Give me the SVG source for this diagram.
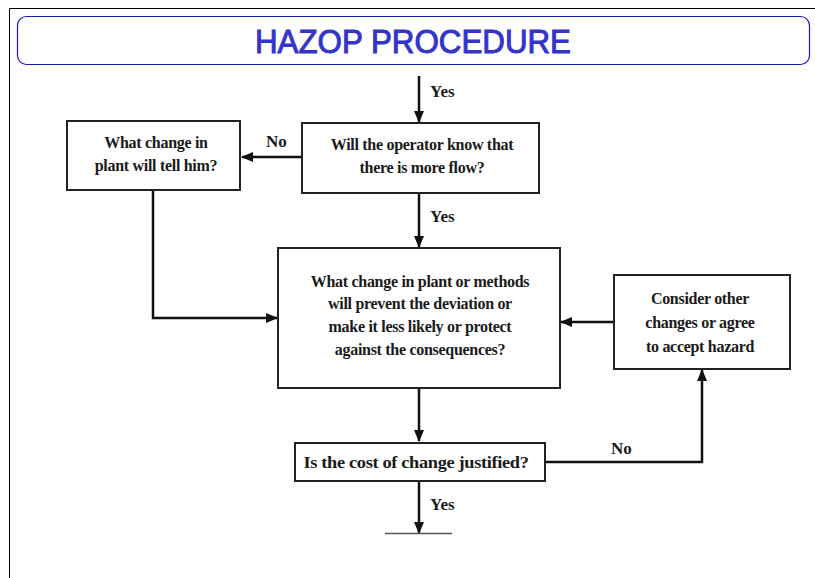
<svg xmlns="http://www.w3.org/2000/svg" width="815" height="578" viewBox="0 0 815 578">
<style>
.box{fill:#fff;stroke:#222;stroke-width:2}
.t{font-family:"Liberation Serif","Times New Roman",serif;font-size:16px;fill:#1a1a1a;text-anchor:middle;font-weight:bold;letter-spacing:-0.3px}
.lbl{font-family:"Liberation Serif","Times New Roman",serif;font-size:17px;fill:#1a1a1a;font-weight:bold}
.c{fill:none;stroke:#111;stroke-width:2.5}
</style>
<defs>
<marker id="ah" viewBox="0 0 12 10" refX="11" refY="5" markerWidth="12" markerHeight="10" markerUnits="userSpaceOnUse" orient="auto">
<path d="M0,0 L12,5 L0,10 Z" fill="#111"/>
</marker>
</defs>
<rect width="815" height="578" fill="#fff"/>
<path d="M9.5,578 V8.5 H815" fill="none" stroke="#000" stroke-width="1"/>
<g id="title">
<rect x="17.5" y="16.5" width="792" height="48" rx="9" fill="#fff" stroke="#1a1aa8" stroke-width="1.2"/>
<text x="413" y="53" font-family="Liberation Sans, Arial, sans-serif" font-size="33" fill="#3434c8" stroke="#3434c8" stroke-width="1" text-anchor="middle" textLength="316" lengthAdjust="spacingAndGlyphs">HAZOP PROCEDURE</text>
</g>
<g id="connectors">
<line class="c" x1="419" y1="76" x2="419" y2="122" marker-end="url(#ah)"/>
<line class="c" x1="302" y1="157" x2="242" y2="157" marker-end="url(#ah)"/>
<line class="c" x1="419" y1="193" x2="419" y2="247" marker-end="url(#ah)"/>
<polyline class="c" points="153,190 153,318 277,318" marker-end="url(#ah)"/>
<line class="c" x1="614" y1="322" x2="561" y2="322" marker-end="url(#ah)"/>
<line class="c" x1="419" y1="388" x2="419" y2="441" marker-end="url(#ah)"/>
<polyline class="c" points="545,462 702,462 702,370" marker-end="url(#ah)"/>
<line class="c" x1="419" y1="481" x2="419" y2="533" marker-end="url(#ah)"/>
<line x1="385" y1="533.5" x2="452" y2="533.5" stroke="#555" stroke-width="1.5"/>
<text class="lbl" x="430" y="97">Yes</text>
<text class="lbl" x="266" y="147">No</text>
<text class="lbl" x="430" y="222">Yes</text>
<text class="lbl" x="611" y="454">No</text>
<text class="lbl" x="430" y="510">Yes</text>
</g>
<g id="n_tell">
<rect class="box" x="67" y="121" width="173" height="69"/>
<text class="t" x="156" y="148">What change in</text>
<text class="t" x="156" y="171">plant will tell him?</text>
</g>
<g id="n_operator">
<rect class="box" x="302" y="123" width="237" height="70"/>
<text class="t" x="422" y="150">Will the operator know that</text>
<text class="t" x="422" y="173">there is more flow?</text>
</g>
<g id="n_change">
<rect class="box" x="278" y="248" width="282" height="140"/>
<text class="t" x="420" y="287">What change in plant or methods</text>
<text class="t" x="420" y="309">will prevent the deviation or</text>
<text class="t" x="420" y="332">make it less  likely or protect</text>
<text class="t" x="420" y="355">against the consequences?</text>
</g>
<g id="n_consider">
<rect class="box" x="614" y="275" width="176" height="94"/>
<text class="t" x="700" y="304">Consider other</text>
<text class="t" x="700" y="328">changes or agree</text>
<text class="t" x="700" y="352">to accept hazard</text>
</g>
<g id="n_cost">
<rect class="box" x="295" y="443" width="250" height="38"/>
<text class="t" x="416" y="468" textLength="225" lengthAdjust="spacingAndGlyphs">Is the cost of change justified?</text>
</g>
</svg>
